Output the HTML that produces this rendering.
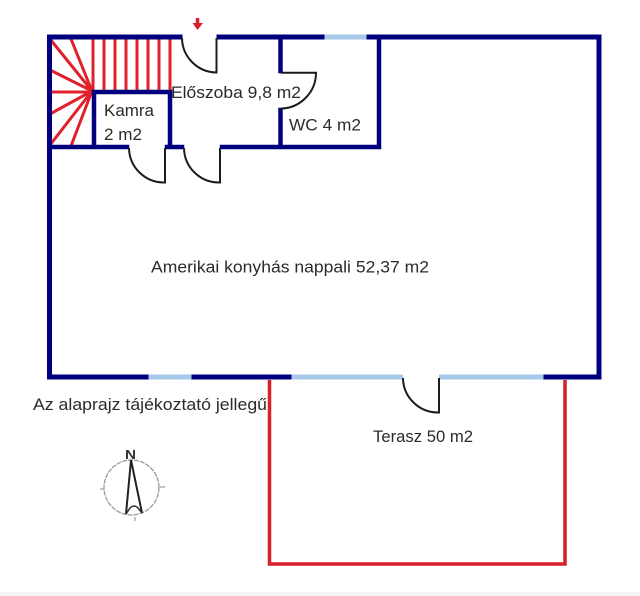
<!DOCTYPE html>
<html><head><meta charset="utf-8"><style>
html,body{margin:0;padding:0;background:#fff;width:640px;height:596px;overflow:hidden}
svg{display:block;filter:blur(.35px)}
text{font-family:"Liberation Sans",sans-serif;font-size:16.5px;fill:#2b2b2b}
</style></head><body>
<svg width="640" height="596" viewBox="0 0 640 596" xmlns="http://www.w3.org/2000/svg">
<rect x="0" y="592" width="640" height="4" fill="#f5f5f5"/>
<!-- stairs -->
<g stroke="#e0202a" stroke-width="3" fill="none">
<path d="M93 37V91M104 37V91M115 37V91M126 37V91M137 37V91M148 37V91M159 37V91M170 37V91"/>
<path d="M50 39L92 91M71 39L92 91M50 70L92 91M50 92H92M50 114L92 91M50 145L92 91M71 146L92 91"/>
</g>
<!-- red terrace -->
<path d="M269.500 380V564H565V380" fill="none" stroke="#d8202a" stroke-width="3.500"/>
<!-- windows -->
<g stroke="#a6c8ea" stroke-width="5" fill="none">
<path d="M324 37H367M148 377H192M291 377H403M439 377H544"/>
</g>
<!-- walls -->
<g stroke="#00007f" stroke-width="5" fill="none" stroke-linecap="square">
<path d="M49.500 37H180M219 37H322M369 37H599V377H546M289 377H194M146 377H49.500V37"/>
<path d="M50 147H127M167 147H182M222 147H379V37M280.500 37V71M280.500 110V147M94 92V147M170 92V147M94 92H170" stroke-width="4.500"/>
</g>
<!-- doors -->
<g stroke="#1c1c1c" stroke-width="2" fill="none">
<path d="M182 38A35 35 0 0 0 216.500 72.500V38"/>
<path d="M129 148A35 35 0 0 0 165 182.500V148"/>
<path d="M184 148A35 35 0 0 0 220 182.500V148"/>
<path d="M281 72.700H316A36 36 0 0 1 281 108.600"/>
<path d="M403 378A35 35 0 0 0 439 412.500V378"/>
</g>
<!-- arrow -->
<path d="M197.500 18V25" stroke="#d8202a" stroke-width="3.500"/>
<path d="M192.500 23H203L197.500 30Z" fill="#d8202a"/>
<!-- labels -->
<text x="171" y="98" textLength="130" lengthAdjust="spacingAndGlyphs">Előszoba 9,8 m2</text>
<text x="104" y="116" textLength="50" lengthAdjust="spacingAndGlyphs">Kamra</text>
<text x="104" y="140" textLength="38" lengthAdjust="spacingAndGlyphs">2 m2</text>
<text x="289" y="130.500" textLength="72" lengthAdjust="spacingAndGlyphs">WC 4 m2</text>
<text x="151" y="272.500" textLength="278" lengthAdjust="spacingAndGlyphs">Amerikai konyhás nappali 52,37 m2</text>
<text x="33" y="410" textLength="234" lengthAdjust="spacingAndGlyphs">Az alaprajz tájékoztató jellegű</text>
<text x="373" y="442" textLength="100" lengthAdjust="spacingAndGlyphs">Terasz 50 m2</text>
<!-- compass -->
<circle cx="131.500" cy="487.500" r="27.500" fill="none" stroke="#9a9a9a" stroke-width="1.300" stroke-dasharray="5 1"/>
<path d="M100 489H104M160 487H165M135 517V521" stroke="#8a8a8a" stroke-width="1"/>
<path d="M131 460L126 514M131 460L142 513" fill="none" stroke="#222" stroke-width="2"/>
<path d="M126 514L130 508Q134 504 138 508L142 513" fill="none" stroke="#333" stroke-width="1.500"/>
<text x="125" y="459" style="font-size:13px;font-weight:bold;fill:#333" textLength="11" lengthAdjust="spacingAndGlyphs">N</text>
</svg>
</body></html>
